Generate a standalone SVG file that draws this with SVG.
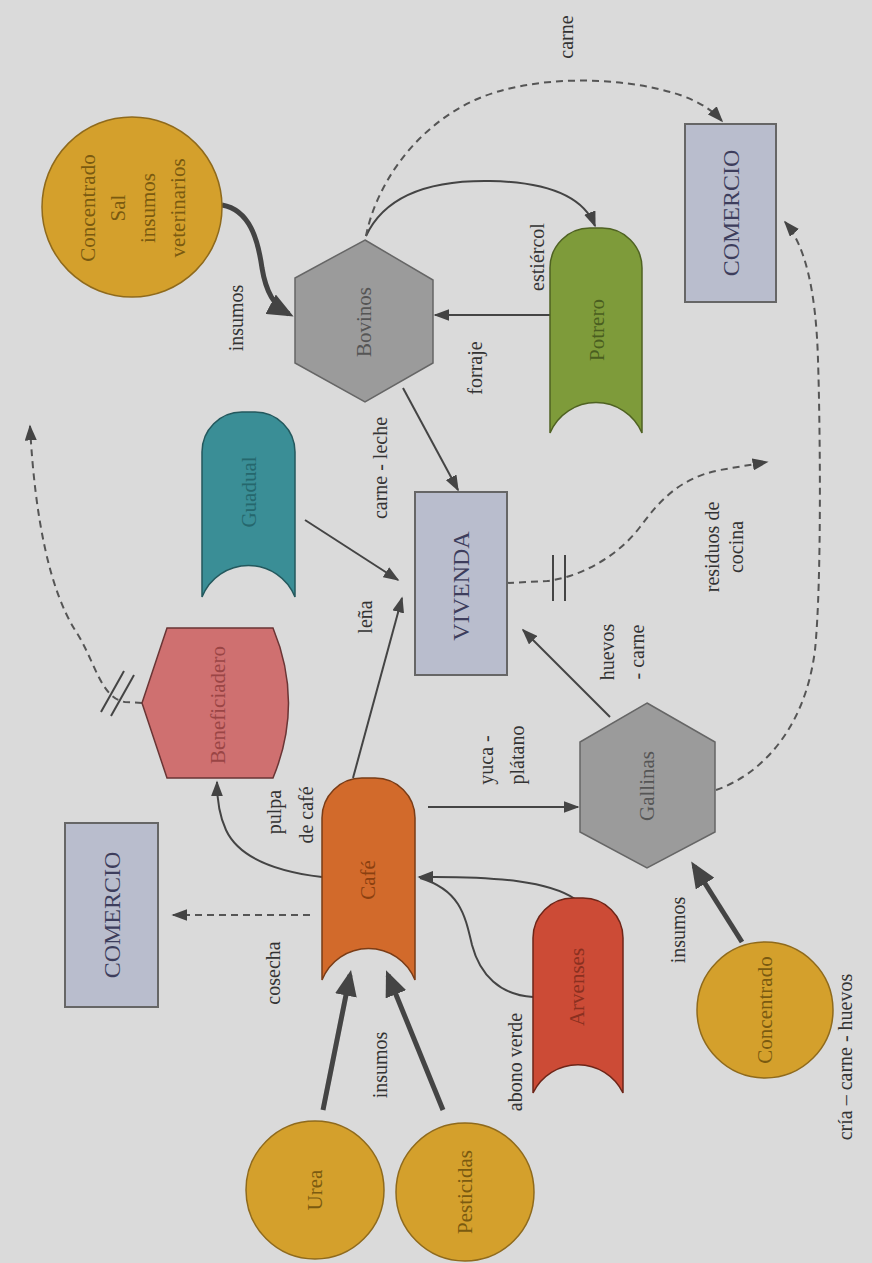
<svg xmlns="http://www.w3.org/2000/svg" width="872" height="1263" viewBox="0 0 872 1263">
<defs>
<style>
.lbl{font-family:"Liberation Serif","Times New Roman",serif;font-size:20px;fill:#333;text-anchor:middle;dominant-baseline:central}
.nt{font-family:"Liberation Serif","Times New Roman",serif;font-size:21px;text-anchor:middle;dominant-baseline:central}
.cap{font-family:"Liberation Serif","Times New Roman",serif;font-size:24px;fill:#3d3d5c;text-anchor:middle;dominant-baseline:central}
.yel{fill:#d4a02c;stroke:#8f6a1c;stroke-width:1.5}
.hex{fill:#9b9b9b;stroke:#666;stroke-width:1.5}
.box{fill:#b9bdcd;stroke:#666;stroke-width:2}
.ln{fill:none;stroke:#444;stroke-width:2}
.thk{fill:none;stroke:#444;stroke-width:5}
.dsh{fill:none;stroke:#555;stroke-width:2;stroke-dasharray:7 5}
</style>
<marker id="ah" viewBox="0 0 10 10" refX="9" refY="5" markerWidth="16" markerHeight="12" markerUnits="userSpaceOnUse" orient="auto" preserveAspectRatio="none"><path d="M0,0 L10,5 L0,10 z" fill="#444"/></marker>
<marker id="ahb" viewBox="0 0 10 10" refX="8" refY="5" markerWidth="26" markerHeight="22" markerUnits="userSpaceOnUse" orient="auto" preserveAspectRatio="none"><path d="M0,0 L10,5 L0,10 z" fill="#444"/></marker>
</defs>
<rect x="0" y="0" width="872" height="1263" fill="#dadada"/>

<g id="connectors">
<path class="thk" d="M222,205 C250,210 258,240 262,268 C266,292 274,306 289,314" marker-end="url(#ahb)"/>
<path class="ln" d="M366,236 C385,195 430,180 490,181 C545,182 583,195 595,226" marker-end="url(#ah)"/>
<path class="dsh" d="M366,236 C375,190 410,130 475,100 C530,75 620,75 680,95 C700,102 712,110 722,121" marker-end="url(#ah)"/>
<path class="ln" d="M550,315 L435,315" marker-end="url(#ah)"/>
<path class="ln" d="M403,388 L458,490" marker-end="url(#ah)"/>
<path class="ln" d="M305,520 L398,580" marker-end="url(#ah)"/>
<path class="ln" d="M353,778 L402,598" marker-end="url(#ah)"/>
<path class="ln" d="M428,807 L578,807" marker-end="url(#ah)"/>
<path class="ln" d="M610,717 L523,630" marker-end="url(#ah)"/>
<path class="dsh" d="M507,583 L547,581 C575,578 615,560 640,527 C660,500 680,478 720,470 L767,462" marker-end="url(#ah)"/>
<line x1="553" y1="555" x2="553" y2="601" stroke="#444" stroke-width="2"/>
<line x1="565" y1="555" x2="565" y2="601" stroke="#444" stroke-width="2"/>
<path class="dsh" d="M716,790 C760,775 805,730 815,650 C822,580 820,420 818,360 C816,290 805,245 785,222" marker-end="url(#ah)"/>
<path class="ln" d="M322,877 C280,872 240,860 226,830 C219,815 217,800 217,782" marker-end="url(#ah)"/>
<path class="dsh" d="M310,915 L173,915" marker-end="url(#ah)"/>
<path class="dsh" d="M142,703 L125,702 C100,698 95,660 75,630 C50,590 35,520 30,426" marker-end="url(#ah)"/>
<line x1="124" y1="671" x2="101" y2="712" stroke="#444" stroke-width="2"/>
<line x1="134" y1="675" x2="111" y2="716" stroke="#444" stroke-width="2"/>
<path class="thk" d="M323,1110 L350,975" marker-end="url(#ahb)"/>
<path class="thk" d="M443,1110 L388,975" marker-end="url(#ahb)"/>
<path class="ln" d="M575,899 C550,882 500,876 419,877" marker-end="url(#ah)"/>
<path class="ln" d="M533,997 C500,995 480,975 472,945 C465,915 460,890 420,878"/>
<path class="thk" d="M742,942 L694,866" marker-end="url(#ahb)"/>
</g>

<g id="concentrado-sal">
<circle class="yel" cx="132" cy="207" r="90"/>
<text class="nt" fill="#7a5a10" transform="rotate(-90 88 208)" x="88" y="208">Concentrado</text>
<text class="nt" fill="#7a5a10" transform="rotate(-90 118 208)" x="118" y="208">Sal</text>
<text class="nt" fill="#7a5a10" transform="rotate(-90 148 208)" x="148" y="208">insumos</text>
<text class="nt" fill="#7a5a10" transform="rotate(-90 178 208)" x="178" y="208">veterinarios</text>
</g>

<g id="bovinos">
<polygon class="hex" points="365,240 433,280 433,363 365,402 295,363 295,278"/>
<text class="nt" fill="#555" transform="rotate(-90 364 322)" x="364" y="322">Bovinos</text>
</g>

<g id="potrero">
<path d="M550,433 V268 A40,40 0 0 1 590,228 H602 A40,40 0 0 1 642,268 V433 A50,50 0 0 0 550,433 Z" fill="#7e9b3a" stroke="#4f6222" stroke-width="1.5"/>
<text class="nt" fill="#4a5e20" transform="rotate(-90 597 330)" x="597" y="330">Potrero</text>
</g>

<g id="comercio-1">
<rect class="box" x="685" y="124" width="91" height="178"/>
<text class="cap" transform="rotate(-90 731 213)" x="731" y="213">COMERCIO</text>
</g>

<g id="guadual">
<path d="M202,597 V452 A40,40 0 0 1 242,412 H255 A40,40 0 0 1 295,452 V597 A50,50 0 0 0 202,597 Z" fill="#3a8e96" stroke="#23585d" stroke-width="1.5"/>
<text class="nt" fill="#25676d" transform="rotate(-90 249 492)" x="249" y="492">Guadual</text>
</g>

<g id="beneficiadero">
<path d="M167,628 L273,628 Q304,703 273,778 L167,778 L142,703 Z" fill="#cf7070" stroke="#6a3535" stroke-width="1.5"/>
<text class="nt" fill="#9a4545" transform="rotate(-90 218 705)" x="218" y="705">Beneficiadero</text>
</g>

<g id="vivienda">
<rect class="box" x="415" y="492" width="92" height="183"/>
<text class="cap" transform="rotate(-90 461 586)" x="461" y="586">VIVENDA</text>
</g>

<g id="gallinas">
<polygon class="hex" points="647,703 715,742 715,832 647,868 580,832 580,742"/>
<text class="nt" fill="#555" transform="rotate(-90 647 786)" x="647" y="786">Gallinas</text>
</g>

<g id="cafe">
<path d="M322,980 V818 A40,40 0 0 1 362,778 H375 A40,40 0 0 1 415,818 V980 A50,50 0 0 0 322,980 Z" fill="#d26a2b" stroke="#7a3c16" stroke-width="1.5"/>
<text class="nt" fill="#8a4010" transform="rotate(-90 368 880)" x="368" y="880">Café</text>
</g>

<g id="comercio-2">
<rect class="box" x="65" y="823" width="93" height="184"/>
<text class="cap" transform="rotate(-90 112 915)" x="112" y="915">COMERCIO</text>
</g>

<g id="arvenses">
<path d="M533,1093 V938 A40,40 0 0 1 573,898 H583 A40,40 0 0 1 623,938 V1093 A50,50 0 0 0 533,1093 Z" fill="#cc4b36" stroke="#6e2518" stroke-width="1.5"/>
<text class="nt" fill="#8a3020" transform="rotate(-90 577 987)" x="577" y="987">Arvenses</text>
</g>

<g id="urea">
<circle class="yel" cx="315" cy="1190" r="69"/>
<text class="nt" fill="#7a5a10" transform="rotate(-90 315 1190)" x="315" y="1190">Urea</text>
</g>

<g id="pesticidas">
<circle class="yel" cx="465" cy="1192" r="69"/>
<text class="nt" fill="#7a5a10" transform="rotate(-90 465 1192)" x="465" y="1192">Pesticidas</text>
</g>

<g id="concentrado">
<circle class="yel" cx="765" cy="1010" r="68"/>
<text class="nt" fill="#7a5a10" transform="rotate(-90 765 1010)" x="765" y="1010">Concentrado</text>
</g>

<g id="labels">
<text class="lbl" transform="rotate(-90 566 37)" x="566" y="37">carne</text>
<text class="lbl" transform="rotate(-90 236 318)" x="236" y="318">insumos</text>
<text class="lbl" transform="rotate(-90 537 257)" x="537" y="257">estiércol</text>
<text class="lbl" transform="rotate(-90 475 368)" x="475" y="368">forraje</text>
<text class="lbl" transform="rotate(-90 380 468)" x="380" y="468">carne - leche</text>
<text class="lbl" transform="rotate(-90 365 617)" x="365" y="617">leña</text>
<text class="lbl" transform="rotate(-90 486 760)" x="486" y="760">yuca -</text>
<text class="lbl" transform="rotate(-90 517 755)" x="517" y="755">plátano</text>
<text class="lbl" transform="rotate(-90 607 652)" x="607" y="652">huevos</text>
<text class="lbl" transform="rotate(-90 637 652)" x="637" y="652">- carne</text>
<text class="lbl" transform="rotate(-90 712 547)" x="712" y="547">residuos de</text>
<text class="lbl" transform="rotate(-90 736 547)" x="736" y="547">cocina</text>
<text class="lbl" transform="rotate(-90 845 1057)" x="845" y="1057">cría – carne - huevos</text>
<text class="lbl" transform="rotate(-90 274 812)" x="274" y="812">pulpa</text>
<text class="lbl" transform="rotate(-90 306 815)" x="306" y="815">de café</text>
<text class="lbl" transform="rotate(-90 273 973)" x="273" y="973">cosecha</text>
<text class="lbl" transform="rotate(-90 380 1065)" x="380" y="1065">insumos</text>
<text class="lbl" transform="rotate(-90 515 1062)" x="515" y="1062">abono verde</text>
<text class="lbl" transform="rotate(-90 678 930)" x="678" y="930">insumos</text>
</g>
</svg>
